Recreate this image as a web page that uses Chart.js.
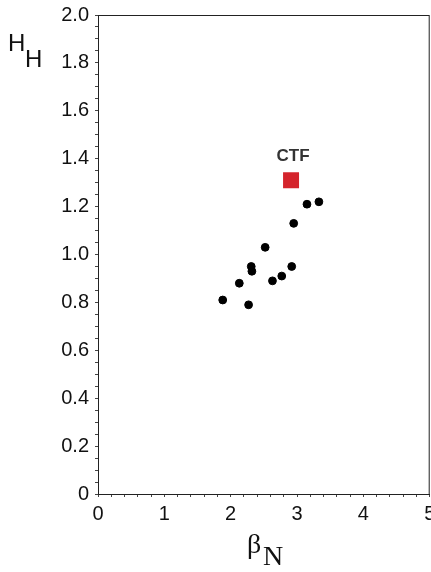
<!DOCTYPE html>
<html>
<head>
<meta charset="utf-8">
<script src="https://cdn.jsdelivr.net/npm/chart.js@4"></script>
<style>
  html, body { margin: 0; padding: 0; background: #fff; overflow: hidden; }
  /* canvas a bit wider than the window so the "5" label is cut at the edge like the original */
  #wrap { width: 441px; height: 572px; position: relative; }
</style>
</head>
<body>
<div id="wrap"><canvas id="myChart"></canvas></div>
<script>
// shot data
const betaN = [3.15, 3.33, 2.95, 2.52, 2.31, 2.32, 2.92, 2.77, 2.63, 2.13, 1.88, 2.27];
const hH    = [1.21, 1.22, 1.13, 1.03, 0.95, 0.93, 0.95, 0.91, 0.89, 0.88, 0.81, 0.79];
// CTF design point
const ctfBeta = [2.91];
const ctfH = [1.31];
const ctfLabel = 'CTF';

const xTicks = [0, 1, 2, 3, 4, 5];
const yTicks = [0, 0.2, 0.4, 0.6, 0.8, 1.0, 1.2, 1.4, 1.6, 1.8, 2.0];

const ctx = document.getElementById('myChart');

const frame = {
  id: 'frame',
  afterDraw(chart) {
    const c = chart.ctx, a = chart.chartArea;
    c.save();
    c.strokeStyle = '#222';
    c.lineWidth = 1;
    c.strokeRect(a.left + 0.5, a.top + 0.5, a.right - a.left - 1, a.bottom - a.top);
    // CTF label above the square
    const pt = chart.getDatasetMeta(1).data[0];
    c.fillStyle = '#333';
    c.font = 'bold 17px "Liberation Sans", Arial, sans-serif';
    c.textAlign = 'center';
    c.textBaseline = 'alphabetic';
    c.fillText(ctfLabel, pt.x + 2, pt.y - 19);
    // axis titles
    c.fillStyle = '#111';
    c.textAlign = 'left';
    c.font = '24px "Liberation Sans", Arial, sans-serif';
    c.fillText('H', 8, 51);
    c.fillText('H', 25, 67);
    c.font = '28px "Liberation Serif", "Times New Roman", serif';
    c.fillText('\u03b2', 247, 553);
    c.fillText('N', 263, 565);
    c.restore();
  }
};

new Chart(ctx, {
  type: 'scatter',
  data: {
    datasets: [{
      label: 'shots',
      data: betaN.map((b, i) => ({ x: b, y: hH[i] })),
      backgroundColor: '#000',
      borderColor: '#000',
      pointRadius: 3.9,
      pointHoverRadius: 3.9
    }, {
      label: ctfLabel,
      data: ctfBeta.map((b, i) => ({ x: b, y: ctfH[i] })),
      pointStyle: 'rect',
      backgroundColor: 'rgb(212,36,44)',
      borderColor: 'rgb(212,36,44)',
      borderWidth: 0,
      pointRadius: 11.3,
      pointHoverRadius: 11.3
    }]
  },
  options: {
    responsive: true,
    maintainAspectRatio: false,
    animation: false,
    layout: { padding: { top: 15, right: 3, left: 0, bottom: 0 } },
    plugins: { legend: { display: false }, tooltip: { enabled: false } },
    scales: {
      x: {
        type: 'linear',
        min: 0, max: 5,
        afterFit: s => { s.height = 78; },
        afterBuildTicks: s => {
          const t = [];
          for (let i = 0; i <= 25; i++) t.push({ value: i / 5 });
          s.ticks = t;
        },
        ticks: {
          color: '#111',
          font: { family: '"Liberation Sans", Arial, sans-serif', size: 20 },
          padding: 5,
          maxRotation: 0,
          autoSkip: false,
          callback: v => (xTicks.includes(Math.round(v * 1000) / 1000) ? String(Math.round(v)) : '')
        },
        grid: { drawOnChartArea: false, drawTicks: true, tickLength: 3, color: '#444' },
        border: { display: true, color: '#222' }
      },
      y: {
        type: 'linear',
        min: 0, max: 2,
        afterFit: s => { s.width = 98; s.paddingTop = 0; s.paddingBottom = 0; },
        afterBuildTicks: s => {
          const t = [];
          for (let i = 0; i <= 40; i++) t.push({ value: i / 20 });
          s.ticks = t;
        },
        ticks: {
          color: '#111',
          font: { family: '"Liberation Sans", Arial, sans-serif', size: 20 },
          padding: 6,
          autoSkip: false,
          callback: v => {
            const r = Math.round(v * 100) / 100;
            if (!yTicks.some(t => Math.abs(t - r) < 1e-6)) return '';
            return r === 0 ? '0' : r.toFixed(1);
          }
        },
        grid: { drawOnChartArea: false, drawTicks: true, tickLength: 3, color: '#444' },
        border: { display: true, color: '#222' }
      }
    }
  },
  plugins: [frame]
});
</script>
</body>
</html>
